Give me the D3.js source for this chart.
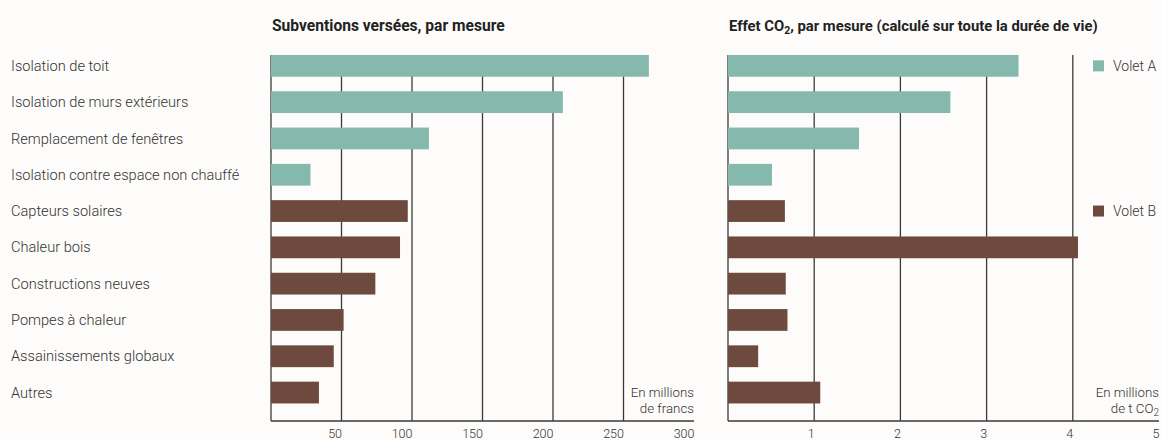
<!DOCTYPE html>
<html>
<head>
<meta charset="utf-8">
<script src="https://cdn.jsdelivr.net/npm/d3@7"></script>
<style>
  html, body { margin: 0; padding: 0; background: #fdfcfa; }
  svg { display: block; font-family: Roboto, "Noto Sans", sans-serif; }
</style>
</head>
<body>
<svg id="chart" width="1161" height="440"></svg>
<script>
// Measures, in display order
const categories = [
  "Isolation de toit",
  "Isolation de murs extérieurs",
  "Remplacement de fenêtres",
  "Isolation contre espace non chauffé",
  "Capteurs solaires",
  "Chaleur bois",
  "Constructions neuves",
  "Pompes à chaleur",
  "Assainissements globaux",
  "Autres"
];
// Programme part each measure belongs to
const volets = ["A", "A", "A", "A", "B", "B", "B", "B", "B", "B"];
// Subsidies paid, millions of francs
const subventions = [268, 207, 112, 28, 97, 91.5, 74, 51.5, 44.5, 34];
// Lifetime CO2 effect, millions of tonnes
const effetCO2 = [3.37, 2.58, 1.52, 0.51, 0.66, 4.06, 0.67, 0.69, 0.35, 1.07];
// Axis labels
const ticksSubventions = [50, 100, 150, 200, 250, 300];
const ticksCO2 = [1, 2, 3, 4, 5];
const legendItems = [
  { key: "A", label: "Volet A", row: 0 },
  { key: "B", label: "Volet B", row: 4 }
];

const colors = { A: "#86b9ad", B: "#6d4a3d" };
const gridColor = "#3a3a3a";
const textColor = "#333";

const svg = d3.select("#chart");
const axisY = 421;
const y = d3.scaleBand().domain(categories).range([47.7, 410.7]).paddingInner(0.4).paddingOuter(0.2);

// Category labels
svg.append("g").selectAll("text").data(categories).join("text")
  .attr("x", 11)
  .attr("y", d => y(d) + y.bandwidth() / 2)
  .attr("dy", "0.35em")
  .attr("font-size", 14.6)
  .attr("font-weight", 300)
  .attr("fill", textColor)
  .text(d => d);

function panel(opts) {
  const x = d3.scaleLinear().domain([0, opts.max]).range([opts.x0, opts.x1]);
  const g = svg.append("g");

  // Title
  const t = g.append("text")
    .attr("x", opts.x0 + 1).attr("y", 31)
    .attr("font-size", opts.titleSize).attr("font-weight", 700).attr("fill", "#222");
  opts.title(t);

  // Vertical grid lines (0 included as baseline)
  g.append("g").selectAll("line").data(opts.grid).join("line")
    .attr("x1", d => x(d)).attr("x2", d => x(d))
    .attr("y1", 55).attr("y2", axisY)
    .attr("stroke", gridColor).attr("stroke-width", 1.3);

  // Bars
  g.append("g").selectAll("rect").data(categories).join("rect")
    .attr("x", x(0))
    .attr("y", d => y(d))
    .attr("width", (d, i) => x(opts.values[i]) - x(0))
    .attr("height", y.bandwidth())
    .attr("fill", (d, i) => colors[volets[i]]);

  // Bottom axis
  const axis = d3.axisBottom(x).tickValues(opts.ticks).tickSize(0).tickFormat(d3.format("d"));
  const ag = g.append("g").attr("transform", `translate(0,${axisY})`).call(axis);
  ag.select(".domain").attr("stroke", gridColor).attr("stroke-width", 1.3)
    .attr("d", `M${x(0)},0H${x(opts.max)}`);
  ag.selectAll("text")
    .attr("y", 16.5).attr("dy", null)
    .attr("text-anchor", "end")
    .attr("font-family", "Roboto, sans-serif")
    .attr("font-size", 12.5).attr("font-weight", 300).attr("fill", textColor);

  // Unit note
  const u = g.append("text").attr("text-anchor", "end")
    .attr("font-size", 13.3).attr("font-weight", 300).attr("fill", textColor);
  u.append("tspan").attr("x", x(opts.max)).attr("y", 397).text("En millions");
  opts.unit(u.append("tspan").attr("x", x(opts.max)).attr("y", 413));
  return x;
}

panel({
  x0: 271, x1: 694, max: 300, titleSize: 15.6,
  values: subventions, ticks: ticksSubventions, grid: [0, 50, 100, 150, 200, 250],
  title: t => t.text("Subventions versées, par mesure"),
  unit: s => s.text("de francs")
});

panel({
  x0: 728, x1: 1159, max: 5, titleSize: 14.8,
  values: effetCO2, ticks: ticksCO2, grid: [0, 1, 2, 3, 4],
  title: t => {
    t.append("tspan").text("Effet CO");
    t.append("tspan").attr("font-size", 10.5).attr("dy", 3).text("2");
    t.append("tspan").attr("dy", -3).text(", par mesure (calculé sur toute la durée de vie)");
  },
  unit: s => {
    s.append("tspan").text("de t CO");
    s.append("tspan").attr("font-size", 10).attr("dy", 3).text("2");
  }
});

// Legend
const lg = svg.append("g").selectAll("g").data(legendItems).join("g")
  .attr("transform", d => `translate(1093,${y(categories[d.row]) + y.bandwidth() / 2})`);
lg.append("rect").attr("x", 0).attr("y", -5.5).attr("width", 11).attr("height", 11)
  .attr("fill", d => colors[d.key]);
lg.append("text").attr("x", 20).attr("dy", "0.35em")
  .attr("font-size", 14).attr("font-weight", 300).attr("fill", textColor)
  .text(d => d.label);
</script>
</body>
</html>
